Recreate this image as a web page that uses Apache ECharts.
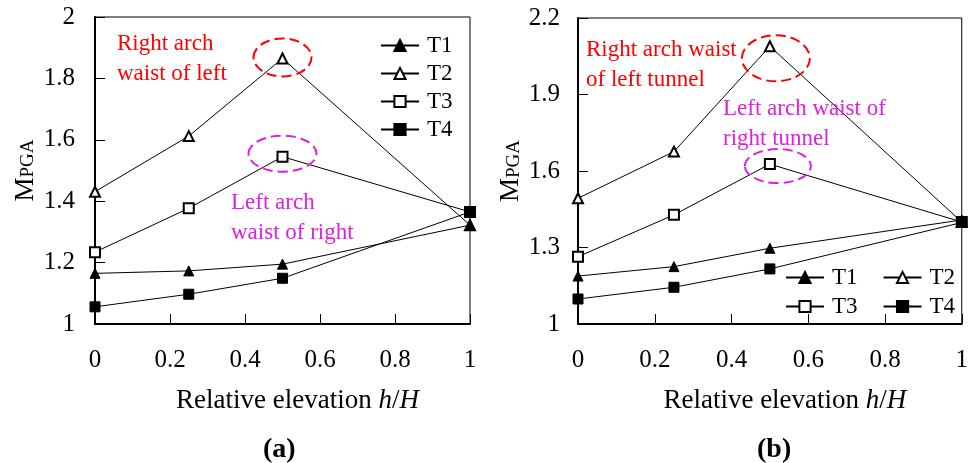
<!DOCTYPE html>
<html>
<head>
<meta charset="utf-8">
<script src="https://cdn.jsdelivr.net/npm/echarts@6/dist/echarts.min.js"></script>
<style>html,body{margin:0;padding:0;background:#fff}#c{width:971px;height:463px}</style>
</head>
<body>
<div id="c"></div>
<script>
const xVals = [0, 0.25, 0.5, 1];
const seriesNames = ['T1', 'T2', 'T3', 'T4'];
// panel (a)
const T1a = [1.165, 1.173, 1.195, 1.322];
const T2a = [1.431, 1.612, 1.865, 1.322];
const T3a = [1.234, 1.377, 1.545, 1.365];
const T4a = [1.056, 1.097, 1.149, 1.365];
// panel (b)
const T1b = [1.188, 1.225, 1.297, 1.408];
const T2b = [1.493, 1.676, 2.089, 1.400];
const T3b = [1.264, 1.428, 1.627, 1.400];
const T4b = [1.098, 1.144, 1.216, 1.398];

const xTicks = { min: 0, max: 1, interval: 0.2 };
const yTicksA = { min: 1, max: 2, interval: 0.2 };
const yTicksB = { min: 1, max: 2.2, interval: 0.3 };

const FONT = 'Liberation Serif';
const symbols = ['triangle', 'emptyTriangle', 'emptyRect', 'rect'];

function pts(arr) { return xVals.map((x, i) => [x, arr[i]]); }

function mkSeries(arrs, idx) {
  return arrs.map((arr, i) => ({
    name: seriesNames[i],
    type: 'line',
    xAxisIndex: idx, yAxisIndex: idx,
    data: pts(arr),
    symbol: symbols[i],
    symbolSize: 10,
    clip: false,
    z: (i === 0 || i === 3) ? 4 : 3,
    lineStyle: { color: '#000', width: 1 },
    itemStyle: { color: '#000', borderColor: '#000', borderWidth: 1 },
    emphasis: { disabled: true }
  }));
}

function xAxis(gridIndex) {
  return {
    type: 'value', gridIndex: gridIndex,
    min: xTicks.min, max: xTicks.max, interval: xTicks.interval,
    name: 'Relative elevation {i|h}/{i|H}',
    nameLocation: 'middle', nameGap: 63,
    nameTextStyle: {
      fontFamily: FONT, fontSize: 27, color: '#000', padding: [0, 0, 0, 30],
      rich: { i: { fontFamily: FONT, fontSize: 27, fontStyle: 'italic', color: '#000' } }
    },
    axisLine: { show: true, onZero: false, lineStyle: { color: '#000', width: 2 } },
    axisTick: { show: true, inside: true, length: 10, lineStyle: { color: '#000', width: 1 } },
    axisLabel: { fontFamily: FONT, fontSize: 25, color: '#000', margin: 24 },
    splitLine: { show: false }
  };
}

function yAxis(gridIndex, t, gap, lblMargin) {
  return {
    type: 'value', gridIndex: gridIndex,
    min: t.min, max: t.max, interval: t.interval,
    name: '{m|M}{s|PGA}',
    nameLocation: 'middle', nameGap: gap, nameRotate: 90,
    nameTextStyle: {
      color: '#000', fontFamily: FONT,
      rich: {
        m: { fontFamily: FONT, fontSize: 27, color: '#000', verticalAlign: 'bottom' },
        s: { fontFamily: FONT, fontSize: 19, color: '#000', verticalAlign: 'bottom', padding: [0, 0, 1, 0] }
      }
    },
    axisLine: { show: true, onZero: false, lineStyle: { color: '#000', width: 2 } },
    axisTick: { show: true, inside: true, length: 10, lineStyle: { color: '#000', width: 1 } },
    axisLabel: { fontFamily: FONT, fontSize: 25, color: '#000', margin: lblMargin },
    splitLine: { show: false }
  };
}

const legendBase = {
  padding: 0,
  itemWidth: 38, itemHeight: 14,
  textStyle: { fontFamily: FONT, fontSize: 23, color: '#000', lineHeight: 23, padding: [0, 0, 0, 3] },
  selectedMode: false,
  inactiveColor: '#000'
};

const chart = echarts.init(document.getElementById('c'), null, { renderer: 'canvas' });

const option = {
  backgroundColor: '#fff',
  animation: false,
  textStyle: { fontFamily: FONT },
  grid: [
    { left: 95, right: 501, top: 17, bottom: 139, show: true, borderColor: '#000', borderWidth: 1, containLabel: false },
    { left: 578, right: 9, top: 18, bottom: 139, show: true, borderColor: '#000', borderWidth: 1, containLabel: false }
  ],
  xAxis: [xAxis(0), xAxis(1)],
  yAxis: [yAxis(0, yTicksA, 56, 20), yAxis(1, yTicksB, 52, 18)],
  legend: [
    Object.assign({}, legendBase, { orient: 'vertical', left: 380, top: 34, itemGap: 5, data: seriesNames }),
    Object.assign({}, legendBase, { orient: 'horizontal', left: 785, top: 266, itemGap: 25, data: ['T1', 'T2'] }),
    Object.assign({}, legendBase, { orient: 'horizontal', left: 785, top: 295, itemGap: 25, data: ['T3', 'T4'] })
  ],
  series: mkSeries([T1a, T2a, T3a, T4a], 0).concat(mkSeries([T1b, T2b, T3b, T4b], 1))
};
chart.setOption(option);

function px(gridIndex, x, y) {
  return chart.convertToPixel({ gridIndex: gridIndex }, [x, y]);
}

const RED = '#ff0000';
const MAG = '#e020e0';
const pa2 = px(0, xVals[2], T2a[2]);
const pa3 = px(0, xVals[2], T3a[2]);
const pb2 = px(1, xVals[2], T2b[2]);
const pb3 = px(1, xVals[2], T3b[2]);

function ell(c, dx, dy, rx, ry, color) {
  return {
    type: 'ellipse', silent: true, z: 10,
    shape: { cx: c[0] + dx, cy: c[1] + dy, rx: rx, ry: ry },
    style: { fill: 'none', stroke: color, lineWidth: 2, lineDash: [10, 5] }
  };
}
function txt(x, y, s, color) {
  return {
    type: 'text', silent: true, z: 10, left: x, top: y,
    style: { text: s, fill: color, fontFamily: FONT, fontSize: 23, lineHeight: 30 }
  };
}

chart.setOption({
  graphic: [
    ell(pa2, 0, -1, 29, 19, RED),
    ell(pa3, 0, -3, 34, 18, MAG),
    ell(pb2, 6, 12, 34, 23, RED),
    ell(pb3, 8, 2, 33, 17, MAG),
    txt(117, 29, 'Right arch\nwaist of left', RED),
    txt(231, 188, 'Left arch\nwaist of right', MAG),
    txt(586, 35, 'Right arch waist\nof left tunnel', RED),
    txt(723, 94, 'Left arch waist of\nright tunnel', MAG),
    { type: 'text', silent: true, left: 263, top: 436, style: { text: '(a)', fill: '#000', fontFamily: FONT, fontSize: 28, fontWeight: 'bold' } },
    { type: 'text', silent: true, left: 757, top: 436, style: { text: '(b)', fill: '#000', fontFamily: FONT, fontSize: 28, fontWeight: 'bold' } }
  ]
});
</script>
</body>
</html>
